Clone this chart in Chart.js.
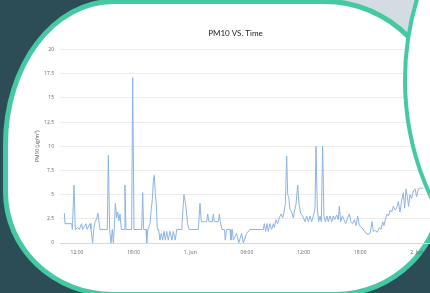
<!DOCTYPE html>
<html>
<head>
<meta charset="utf-8">
<script src="https://cdn.jsdelivr.net/npm/chart.js@4.4.1/dist/chart.umd.min.js"></script>
<style>
  html, body { margin:0; padding:0; width:430px; height:293px; overflow:hidden; background:#2c4d55; }
  #grey { position:absolute; left:330px; top:0; width:100px; height:110px; background:#d4dce3; z-index:0; }
  #main { position:absolute; left:3px; top:-1px; width:432px; height:288px; background:#fff;
          border:5px solid #45c9a3;
          border-radius:110px 120px 110px 110px / 145px 122px 110px 105px; z-index:1; }
  #wrap { position:absolute; left:0; top:0; width:431px; height:293px; z-index:2; }
  #circle { position:absolute; left:403px; top:-200px; width:552px; height:552px; border-radius:50%;
            background:#fff; border:4px solid #45c9a3; z-index:3; }
</style>
</head>
<body>
<div id="grey"></div>
<div id="main"></div>
<div id="wrap"><canvas id="c" width="431" height="293"></canvas></div>
<div id="circle"></div>
<script>
// hours relative to the first x tick
const hours = [-1.34,-1.27,-0.56,-0.49,-0.32,-0.18,0.07,0.25,0.49,0.60,0.95,1.06,1.38,1.48,1.66,1.77,1.91,2.08,2.22,2.33,2.44,
  3.21,3.32,3.46,3.60,3.74,3.85,3.95,4.06,4.20,4.31,4.45,4.56,4.70,4.98,5.08,5.19,5.79,5.90,6.04,6.85,6.96,7.06,7.31,7.38,7.52,
  7.73,7.87,7.98,8.09,8.19,8.30,8.40,8.51,8.65,8.79,8.93,9.07,9.22,9.36,9.50,9.67,9.85,10.06,10.20,10.42,10.56,11.02,11.12,
  11.33,11.51,11.72,11.86,12.85,13.03,13.17,13.74,13.84,13.98,14.34,14.44,14.55,14.97,15.08,15.18,15.36,15.61,15.71,15.85,
  16.21,16.31,16.45,16.56,16.91,17.13,17.44,17.62,17.97,18.33,19.74,19.84,19.98,20.13,20.27,20.44,20.62,20.80,20.90,21.08,
  21.26,21.43,21.61,21.79,21.93,22.07,22.21,22.32,22.42,22.56,22.74,22.92,23.02,23.20,23.38,23.52,23.69,23.90,24.15,24.33,
  24.51,24.68,24.86,25.03,25.21,25.32,25.46,25.60,25.74,25.88,26.02,26.16,26.31,26.48,26.62,26.80,26.98,27.15,27.29,27.51,
  27.68,27.79,27.93,28.11,28.28,28.46,28.67,28.85,29.02,29.20,29.38,29.55,29.73,29.91,30.16,30.40,30.61,30.86,31.04,31.25,
  31.39,31.60,31.81,32.03,32.20,32.38,32.52,32.70,32.87,33.01,33.16,33.33,33.51,33.69,33.86,34.04,34.22,34.39,34.57,34.71,
  34.85,34.99,35.13,35.27,35.45,35.63,35.81,35.98,36.16,36.40,36.62];
const pm10 = [3.1,2.0,2.0,1.4,6.0,1.4,1.6,1.4,2.0,1.4,2.0,1.4,2.0,1.4,0.0,1.4,2.2,2.5,3.1,2.2,1.4,
  1.4,9.1,1.4,0.0,1.4,0.0,1.4,4.1,2.6,3.2,2.3,3.0,1.4,1.4,6.0,1.4,1.4,17.1,1.4,1.4,5.2,1.4,1.4,0.0,1.4,
  2.0,3.5,4.5,6.5,7.0,5.0,4.0,1.4,1.4,0.3,1.0,0.3,1.2,0.3,1.2,0.3,1.2,0.3,1.2,0.3,1.4,1.4,2.0,
  5.0,4.0,2.0,1.4,1.4,4.1,2.2,2.2,3.0,2.2,2.2,3.0,2.2,2.2,3.0,2.2,1.4,1.4,0.3,1.4,
  1.4,0.3,1.4,0.3,1.0,0.0,1.0,0.0,1.0,1.4,1.4,2.0,1.2,2.0,1.2,2.0,1.4,2.0,1.6,2.4,
  2.0,2.6,3.0,2.6,3.2,4.0,9.0,5.0,4.8,3.5,3.2,2.6,3.2,4.0,6.0,4.0,3.1,2.8,2.2,2.8,
  2.2,2.8,2.2,2.8,3.5,10.0,3.5,2.2,2.8,2.2,10.0,2.8,2.2,2.8,2.2,2.8,2.2,2.8,2.4,2.9,
  2.4,3.8,2.2,2.8,2.4,2.0,2.6,3.0,2.2,2.0,2.4,1.8,2.8,1.8,1.6,1.3,1.0,0.9,1.0,2.2,
  1.2,1.3,1.1,1.6,1.4,2.2,1.8,2.6,3.0,2.8,3.4,3.2,3.8,3.4,3.6,4.3,3.2,4.4,5.2,3.6,
  5.6,4.8,3.8,5.0,4.6,5.4,5.6,4.8,5.6,5.7,5.6];
const xTickHours = [0, 6, 12, 18, 24, 30, 36];
const xTickLabels = ['12:00', '18:00', '1. Jun', '06:00', '12:00', '18:00', '2. Jun'];
const yTicks = [0, 2.5, 5, 7.5, 10, 12.5, 15, 17.5, 20];

new Chart(document.getElementById('c'), {
  type: 'line',
  data: { datasets: [{
    data: hours.map((h, i) => ({ x: h, y: pm10[i] })),
    borderColor: '#8cb3e4', borderWidth: 1, pointRadius: 0, tension: 0, fill: false
  }]},
  options: {
    responsive: false, animation: false, devicePixelRatio: 1,
    layout: { padding: { left: 40, right: 0, top: 29, bottom: 30 } },
    plugins: {
      legend: { display: false }, tooltip: { enabled: false },
      title: { display: true, text: 'PM10 VS. Time', color: '#222',
               font: { family: 'Lato', size: 8, weight: 'normal' }, padding: { top: 0, bottom: 11 } }
    },
    scales: {
      x: {
        type: 'linear', min: -1.8, max: 37.5,
        afterBuildTicks: s => { s.ticks = xTickHours.map(v => ({ value: v })); },
        afterFit: s => { s.height = 20; },
        ticks: { autoSkip: false, maxRotation: 0, padding: 7, color: '#666',
                 font: { family: 'Open Sans', size: 5 },
                 callback: v => xTickLabels[xTickHours.indexOf(v)] },
        grid: { display: false, drawTicks: false },
        border: { display: true, color: '#d6dbe3', width: 1 }
      },
      y: {
        min: 0, max: 20,
        afterBuildTicks: s => { s.ticks = yTicks.map(v => ({ value: v })); },
        afterFit: s => { s.width = 20; },
        ticks: { padding: 6, color: '#666', font: { family: 'Open Sans', size: 5 },
                 callback: v => String(v) },
        grid: { color: '#ececec', drawTicks: false },
        border: { display: false },
        title: { display: true, text: 'PM10 (µg/m³)', color: '#555',
                 font: { family: 'Open Sans', size: 5 }, padding: { top: -5, bottom: 0 } }
      }
    }
  }
});
</script>
</body>
</html>
